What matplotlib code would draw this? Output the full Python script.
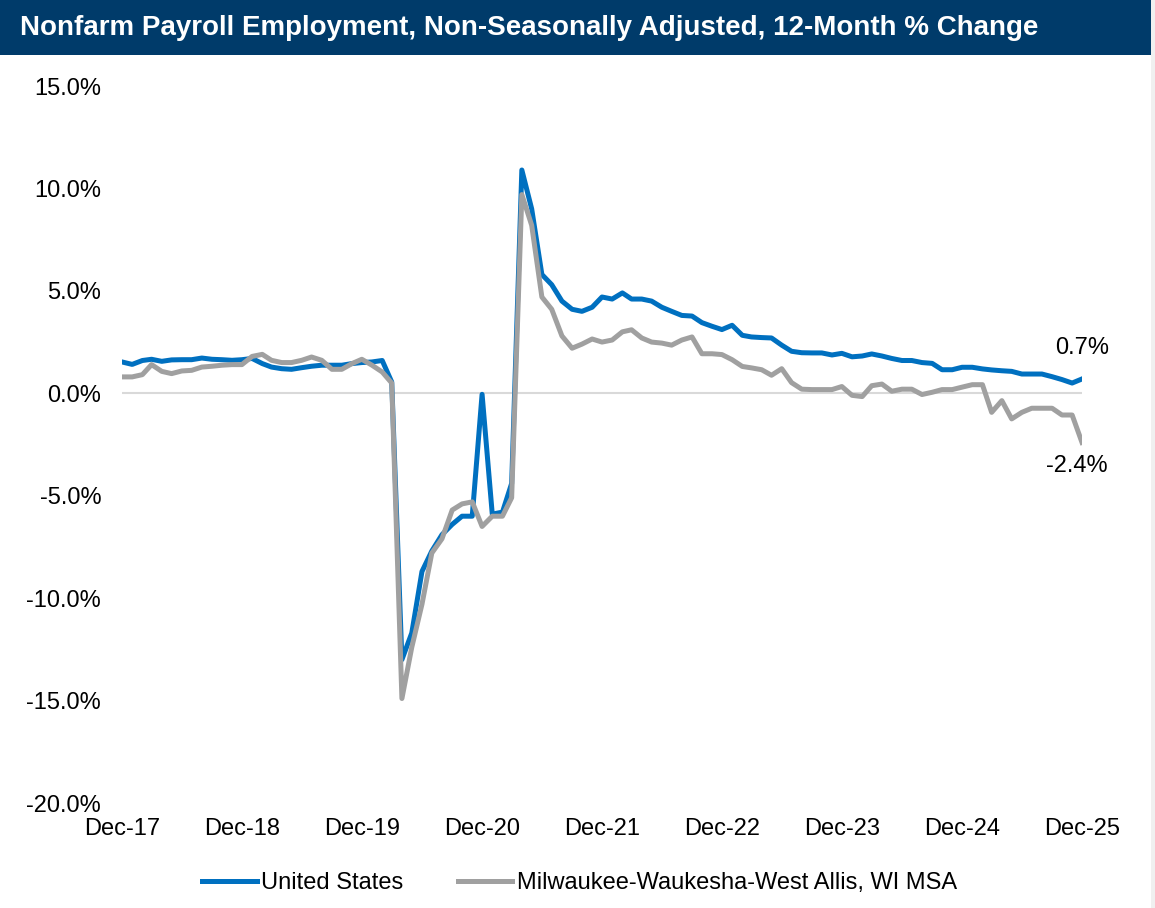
import matplotlib
matplotlib.use("Agg")
import matplotlib.pyplot as plt
import matplotlib.dates as mdates
from matplotlib.patches import Rectangle
from matplotlib.ticker import FuncFormatter
import pandas as pd

plt.rcParams["font.family"] = ["Liberation Sans", "DejaVu Sans"]

title = "Nonfarm Payroll Employment, Non-Seasonally Adjusted, 12-Month % Change"

# Monthly observations, Dec-2017 through Dec-2025 (12-month % change)
months = pd.date_range("2017-12-01", "2025-12-01", freq="MS")

united_states = [
    1.53,                                                                    # Dec-17
    1.41, 1.60, 1.66, 1.56, 1.63, 1.64, 1.64, 1.72, 1.66, 1.64, 1.61, 1.64,  # 2018
    1.70, 1.45, 1.28, 1.20, 1.17, 1.25, 1.32, 1.37, 1.37, 1.37, 1.45, 1.50,  # 2019
    1.53, 1.60, 0.55, -13.0, -11.7, -8.7, -7.7, -6.9, -6.4, -6.0, -6.0, -0.05,  # 2020
    -5.9, -5.8, -4.4, 10.9, 9.0, 5.8, 5.3, 4.5, 4.1, 4.0, 4.2, 4.7,         # 2021
    4.6, 4.9, 4.6, 4.6, 4.5, 4.2, 4.0, 3.8, 3.77, 3.45, 3.27, 3.11,         # 2022
    3.32, 2.83, 2.75, 2.72, 2.70, 2.35, 2.05, 1.98, 1.97, 1.97, 1.87, 1.95, # 2023
    1.78, 1.82, 1.92, 1.82, 1.70, 1.60, 1.60, 1.50, 1.46, 1.15, 1.15, 1.27, # 2024
    1.27, 1.19, 1.14, 1.10, 1.07, 0.94, 0.94, 0.94, 0.81, 0.67, 0.50, 0.70, # 2025
]

milwaukee = [
    0.80,                                                                    # Dec-17
    0.80, 0.91, 1.40, 1.07, 0.96, 1.09, 1.12, 1.28, 1.32, 1.37, 1.40, 1.40,  # 2018
    1.80, 1.90, 1.61, 1.50, 1.50, 1.61, 1.77, 1.61, 1.17, 1.17, 1.45, 1.66,  # 2019
    1.37, 1.04, 0.50, -14.9, -12.4, -10.3, -7.8, -7.1, -5.7, -5.4, -5.3, -6.5,  # 2020
    -6.0, -6.0, -5.1, 9.7, 8.2, 4.7, 4.1, 2.8, 2.2, 2.4, 2.65, 2.5,         # 2021
    2.6, 3.0, 3.1, 2.7, 2.5, 2.45, 2.35, 2.6, 2.75, 1.93, 1.93, 1.89,       # 2022
    1.64, 1.31, 1.24, 1.15, 0.88, 1.20, 0.52, 0.20, 0.18, 0.18, 0.18, 0.33, # 2023
    -0.10, -0.16, 0.37, 0.45, 0.10, 0.20, 0.20, -0.06, 0.05, 0.18, 0.18, 0.30,  # 2024
    0.42, 0.42, -0.93, -0.36, -1.25, -0.93, -0.73, -0.73, -0.73, -1.06, -1.06, -2.4,  # 2025
]

series_names = ["United States", "Milwaukee-Waukesha-West Allis, WI MSA"]
series_colors = ["#0070C0", "#A0A0A0"]

y_ticks = [-20, -15, -10, -5, 0, 5, 10, 15]
x_tick_dates = pd.date_range("2017-12-01", "2025-12-01", freq="12MS")

FS = 17

fig = plt.figure(figsize=(11.55, 9.08), dpi=100)
fig.patch.set_facecolor("white")

# Header band with the title
fig.patches.append(Rectangle((0, 1 - 55 / 908), 1151 / 1155, 55 / 908,
                             transform=fig.transFigure, facecolor="#003B6A",
                             edgecolor="none", zorder=0))
fig.patches.append(Rectangle((1151 / 1155, 0), 4 / 1155, 1,
                             transform=fig.transFigure, facecolor="#F0F0F0",
                             edgecolor="none", zorder=0))
fig.text(20 / 1155, 1 - 28 / 908, title, color="white", fontsize=20,
         fontweight="bold", ha="left", va="center")

ax = fig.add_axes([122 / 1155, 1 - 803 / 908, 960 / 1155, 717 / 908])
ax.set_facecolor("none")

ax.axhline(0, color="#D9D9D9", linewidth=1.5, zorder=1)
ax.plot(months, united_states, color=series_colors[0], linewidth=3.6,
        label=series_names[0], solid_joinstyle="round", zorder=3)
ax.plot(months, milwaukee, color=series_colors[1], linewidth=3.6,
        label=series_names[1], solid_joinstyle="round", zorder=4)

ax.set_xlim(months[0], months[-1])
ax.set_ylim(-20, 15)
ax.set_yticks(y_ticks)
ax.yaxis.set_major_formatter(FuncFormatter(lambda v, p: f"{v:.1f}%"))
ax.set_xticks(x_tick_dates)
ax.xaxis.set_major_formatter(mdates.DateFormatter("%b-%y"))
ax.tick_params(axis="both", length=0, labelsize=FS, colors="black")
ax.tick_params(axis="y", pad=15)
ax.tick_params(axis="x", pad=11)
for s in ax.spines.values():
    s.set_visible(False)

# End-of-series value labels
ax.annotate(f"{united_states[-1]:.1f}%", (months[-1], united_states[-1]),
            xytext=(0, 22), textcoords="offset points", ha="center",
            va="center", fontsize=FS)
ax.annotate(f"{milwaukee[-1]:.1f}%", (months[-1], milwaukee[-1]),
            xytext=(-4, -17), textcoords="offset points", ha="center",
            va="center", fontsize=FS)

fig.legend(loc="center", bbox_to_anchor=(0.502, 1 - 883 / 908), ncol=2,
           frameon=False, fontsize=FS, handlelength=2.3, handletextpad=0.2,
           columnspacing=2.3)

fig.savefig("out.png", dpi=100)
